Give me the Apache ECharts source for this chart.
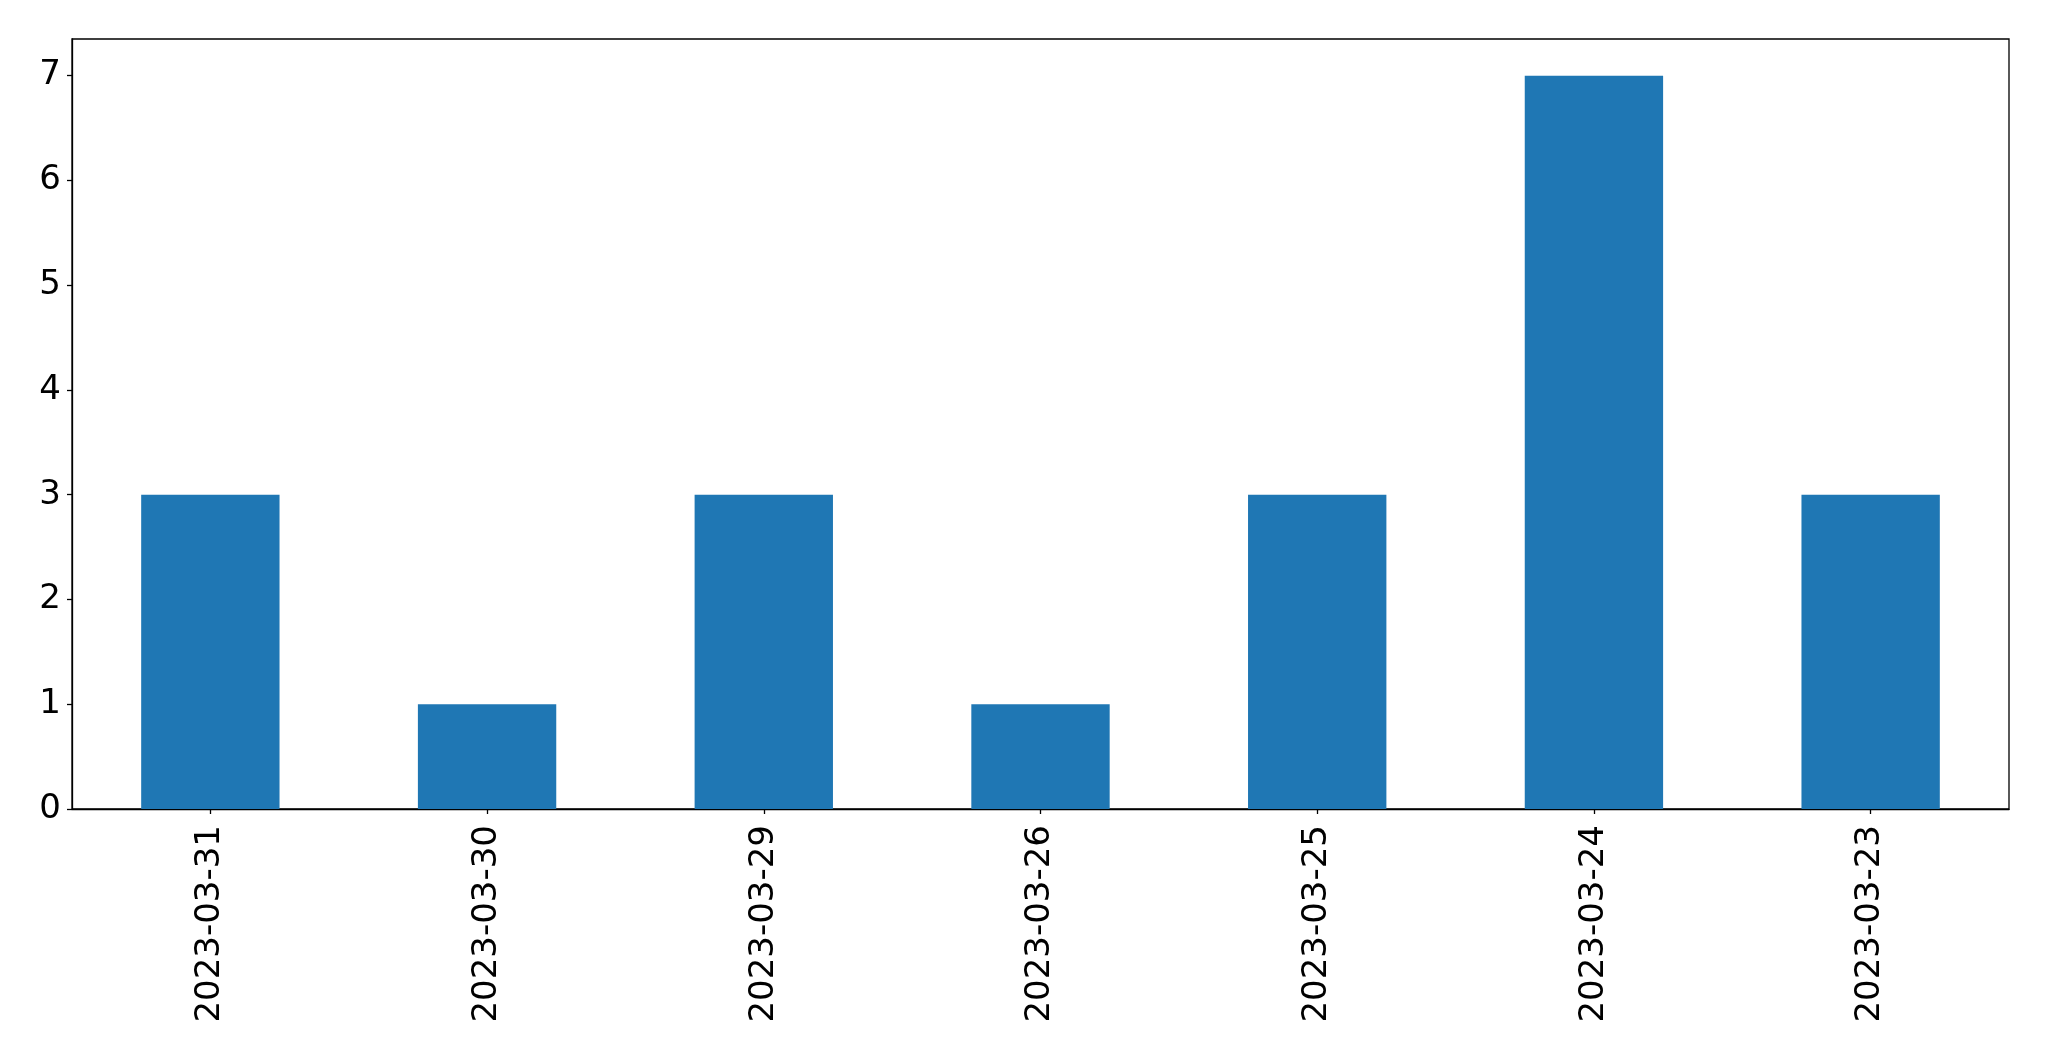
<!DOCTYPE html>
<html>
<head>
<meta charset="utf-8">
<script src="https://cdn.jsdelivr.net/npm/echarts@6/dist/echarts.min.js"></script>
<style>html,body{margin:0;padding:0;background:#fff;}#c{width:2049px;height:1061px;}</style>
</head>
<body>
<div id="c"></div>
<script>
const categories = ['2023-03-31','2023-03-30','2023-03-29','2023-03-26','2023-03-25','2023-03-24','2023-03-23'];
const values = [3, 1, 3, 1, 3, 7, 3];
const yTicks = [0, 1, 2, 3, 4, 5, 6, 7];

const chart = echarts.init(document.getElementById('c'));
const font = 'DejaVu Sans';
chart.setOption({
  animation: false,
  backgroundColor: '#fff',
  grid: {left: 72, right: 40, top: 39, bottom: 252, show: true, borderColor: '#000', borderWidth: 1.3, backgroundColor: 'transparent'},
  xAxis: {
    type: 'category', data: categories, boundaryGap: true,
    axisLine: {show: true, lineStyle: {color: '#000', width: 1.3}},
    axisTick: {show: true, alignWithLabel: true, length: 5, lineStyle: {color: '#000', width: 1.3}},
    axisLabel: {rotate: 90, margin: 16, fontSize: 34, fontFamily: font, color: '#000', interval: 0}
  },
  yAxis: {
    type: 'value', min: 0, max: 7.35,
    splitLine: {show: false},
    axisLine: {show: true, lineStyle: {color: '#000', width: 1.3}},
    axisTick: {show: true, length: 5, lineStyle: {color: '#000', width: 1.3}, customValues: yTicks},
    axisLabel: {margin: 11, fontSize: 34, fontFamily: font, color: '#000', customValues: yTicks}
  },
  series: [{
    type: 'bar', data: values, barWidth: '50%',
    itemStyle: {color: '#1f77b4'}
  }]
});
</script>
</body>
</html>
